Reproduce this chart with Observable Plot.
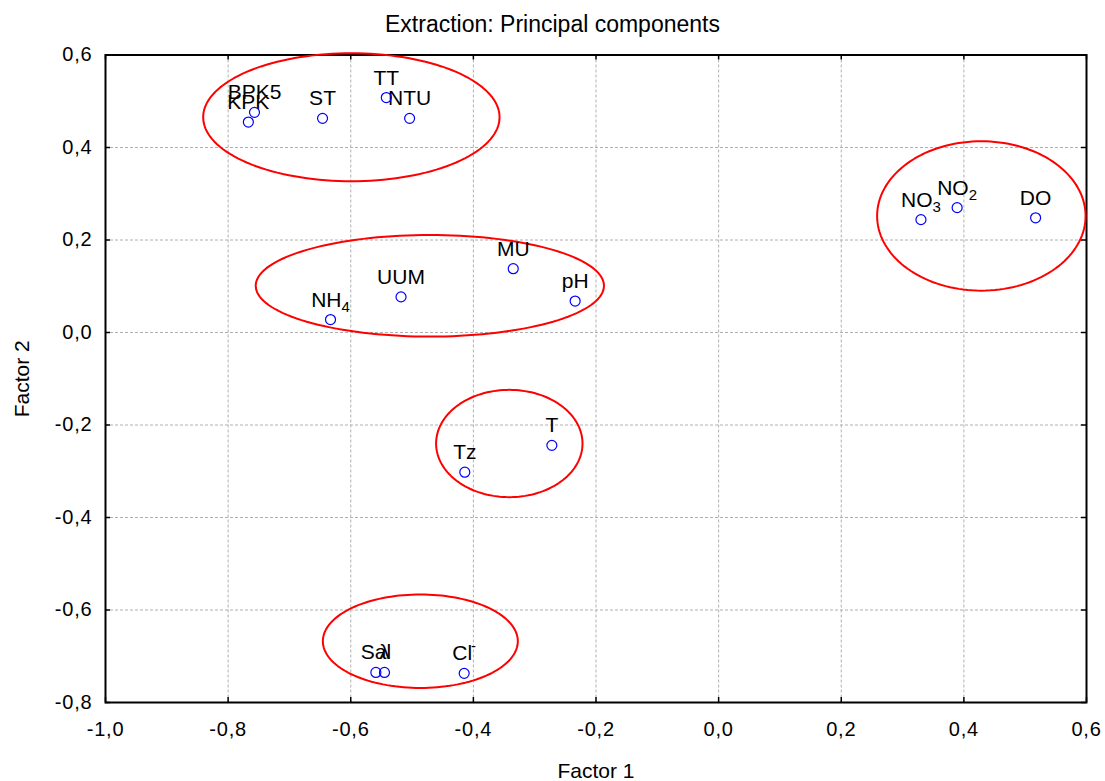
<!DOCTYPE html>
<html><head><meta charset="utf-8">
<script src="https://cdn.jsdelivr.net/npm/d3@7"></script>
<script src="https://cdn.jsdelivr.net/npm/@observablehq/plot@0.6"></script>
<style>
body{margin:0;background:#fff;}
#title{height:40px;width:1105px;position:relative;font-family:"Liberation Sans",Arial,sans-serif;font-size:23px;color:#000;}
#title span{position:absolute;left:0;width:1105px;text-align:center;top:13px;line-height:23px;}
</style></head><body>
<div id="title"><span>Extraction: Principal components</span></div>
<div id="chart"></div>
<script>
// Variable labels (base text, subscript, superscript)
const names = ["BPK5","KPK","ST","TT","NTU","NO","NO","DO","NH","UUM","MU","pH","T","Tz","Sal","λ","Cl"];
const subs  = ["","","","","","3","2","","4","","","","","","","",""];
const sups  = ["","","","","","","","","","","","","","","","","-"];
// Factor loadings
const factor1 = [-0.757,-0.767,-0.646,-0.542,-0.504, 0.330, 0.389, 0.517,-0.633,-0.518,-0.335,-0.234,-0.272,-0.414,-0.559,-0.545,-0.415];
const factor2 = [ 0.476, 0.455, 0.463, 0.508, 0.463, 0.244, 0.270, 0.248, 0.028, 0.077, 0.138, 0.068,-0.244,-0.302,-0.735,-0.735,-0.737];
// Group ellipses (centre and radii in factor units)
const ellCx = [-0.599, 0.4285,-0.471,-0.3414,-0.4865];
const ellCy = [ 0.4655, 0.252, 0.101,-0.240,-0.6675];
const ellRx = [ 0.2417, 0.170, 0.284, 0.1194, 0.159];
const ellRy = [ 0.1384, 0.1615, 0.1098, 0.116, 0.101];
// Axis ticks
const xTicks = [-1.0,-0.8,-0.6,-0.4,-0.2,0.0,0.2,0.4,0.6];
const yTicks = [-0.8,-0.6,-0.4,-0.2,0.0,0.2,0.4,0.6];
const xLabel = "Factor 1";
const yLabel = "Factor 2";

const fmt = d => (Math.abs(d) < 1e-9 ? 0 : d).toFixed(1).replace(".", ",");
const idx = names.map((_, i) => i);

const ellPts = [];
ellCx.forEach((cx, k) => {
  for (let j = 0; j < 144; j++) {
    const t = 2 * Math.PI * j / 144;
    ellPts.push({k, x: cx + ellRx[k] * Math.cos(t), y: ellCy[k] + ellRy[k] * Math.sin(t)});
  }
});

const W = 1105, H = 741, mT = 14.5, mB = 79, mL = 105, mR = 19;
const iw = W - mL - mR, ih = H - mT - mB;

const plot = Plot.plot({
  width: W, height: H,
  marginTop: mT, marginBottom: mB, marginLeft: mL, marginRight: mR,
  style: {fontFamily: "'Liberation Sans', Arial, sans-serif", fontSize: "20px", background: "white", color: "black", overflow: "visible"},
  x: {domain: [-1.0, 0.6]},
  y: {domain: [-0.8, 0.6]},
  marks: [
    Plot.gridX({ticks: xTicks, stroke: "#b0b0b0", strokeOpacity: 1, strokeDasharray: "3,2"}),
    Plot.gridY({ticks: yTicks, stroke: "#b0b0b0", strokeOpacity: 1, strokeDasharray: "3,2"}),
    Plot.axisX({ticks: xTicks, tickSize: 0, tickPadding: 19, tickFormat: fmt, label: null, fontSize: 20}),
    Plot.axisY({ticks: yTicks, tickSize: 0, tickPadding: 13, tickFormat: fmt, label: null, fontSize: 20}),
    Plot.tickX(xTicks, {x: d => d, insetTop: ih - 5, stroke: "black", strokeWidth: 1.5}),
    Plot.tickX(xTicks, {x: d => d, insetBottom: ih - 5, stroke: "black", strokeWidth: 1.5}),
    Plot.tickY(yTicks, {y: d => d, insetRight: iw - 5, stroke: "black", strokeWidth: 1.5}),
    Plot.tickY(yTicks, {y: d => d, insetLeft: iw - 5, stroke: "black", strokeWidth: 1.5}),
    Plot.frame({stroke: "black", strokeWidth: 2}),
    Plot.line(ellPts, {x: "x", y: "y", z: "k", curve: "linear-closed", stroke: "#ff0000", strokeWidth: 2}),
    Plot.text(idx, {x: i => factor1[i], y: i => factor2[i], text: i => names[i], dy: -13, lineAnchor: "bottom", fontSize: 21, fill: "black", className: "lbl"}),
    Plot.dot(idx, {x: i => factor1[i], y: i => factor2[i], r: 5, stroke: "#0000ff", strokeWidth: 1.2, fill: "none"}),
    Plot.text([xLabel], {text: d => d, frameAnchor: "bottom", dy: 75, lineAnchor: "bottom", fontSize: 21, fill: "black"}),
    Plot.text([yLabel], {text: d => d, frameAnchor: "left", dx: -83.5, rotate: -90, textAnchor: "middle", lineAnchor: "middle", fontSize: 21, fill: "black"})
  ]
});

const svg = d3.select(plot);
svg.selectAll("g[aria-label='x-axis tick label'] text, g[aria-label='y-axis tick label'] text").attr("letter-spacing", "0.8");
svg.selectAll("g.lbl text").each(function(i) {
  const t = d3.select(this);
  t.text(null);
  t.append("tspan").text(names[i]);
  if (subs[i]) t.append("tspan").attr("font-size", "15px").attr("dy", "5").text(subs[i]);
  if (sups[i]) t.append("tspan").attr("font-size", "15px").attr("dy", "-9").attr("dx", "-1").text(sups[i]);
});

document.getElementById("chart").appendChild(plot);
</script></body></html>
